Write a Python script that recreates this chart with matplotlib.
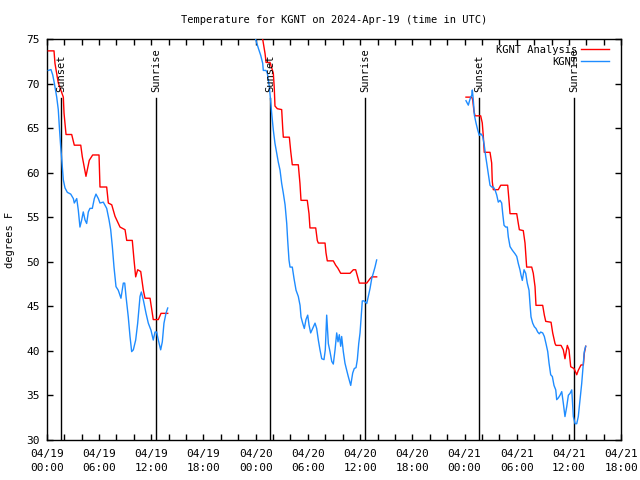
import numpy as np
import matplotlib
matplotlib.use("Agg")
import matplotlib.pyplot as plt

# hours since 2024-04-19 00:00 UTC
ana1_t = [0.18, 0.84, 0.95, 1.33, 1.91, 1.99, 2.22, 2.87, 3.17, 3.91, 4.09, 4.51, 4.89, 5.28, 6.01, 6.12, 6.89,
          7.08, 7.47, 7.85, 8.42, 9.0, 9.19, 9.83, 10.03, 10.22, 10.45, 10.80, 11.10, 11.29, 11.87, 12.24, 12.82,
          13.13, 13.9]
ana1_v = [73.7, 73.7, 72.3, 70.1, 68.5, 66.7, 64.3, 64.3, 63.1, 63.1, 61.8, 59.6, 61.4, 62.0, 62.0, 58.4, 58.4,
          56.6, 56.4, 55.1, 53.9, 53.6, 52.4, 52.4, 50.2, 48.3, 49.1, 48.9, 46.8, 45.9, 45.9, 43.5, 43.5,
          44.2, 44.2]

obs1_t = [0.18, 0.49, 0.69, 0.87, 1.15, 1.33, 1.45, 1.61, 1.72, 1.91, 2.10, 2.37, 2.76, 3.06, 3.17, 3.45, 3.63,
          3.82, 4.02, 4.20, 4.40, 4.59, 4.78, 4.97, 5.24, 5.47, 5.66, 5.93, 6.12, 6.50, 6.89, 7.16, 7.35, 7.54,
          7.73, 7.96, 8.22, 8.53, 8.80, 8.96, 9.11, 9.37, 9.57, 9.76, 9.95, 10.22, 10.45, 10.72, 10.87, 11.10,
          11.41, 11.67, 11.98, 12.24, 12.44, 12.63, 12.82, 13.09, 13.28, 13.47, 13.70, 13.90]
obs1_v = [71.5, 71.6, 71.0, 70.1, 68.5, 67.1, 65.2, 62.9, 61.6, 59.2, 58.3, 57.8, 57.6, 57.1, 56.6, 57.1, 55.8,
          53.9, 54.7, 55.6, 54.7, 54.3, 55.6, 56.0, 56.0, 57.1, 57.6, 57.1, 56.6, 56.7, 56.0, 54.7, 53.6, 51.7,
          49.4, 47.2, 46.8, 45.9, 47.6, 47.6, 46.1, 43.8, 41.6, 39.9, 40.1, 41.2, 43.1, 46.1, 46.6, 45.7,
          44.2, 43.1, 42.3, 41.2, 42.1, 42.1, 41.2, 40.1, 41.0, 43.1, 44.2, 44.8]

ana2_t = [24.3, 24.81, 25.08, 25.2, 25.65, 26.03, 26.14, 26.22, 26.49, 26.99, 27.11, 27.18, 27.87, 28.03, 28.21,
          28.9, 29.09, 29.21, 29.93, 30.13, 30.24, 30.9, 31.08, 31.2, 31.97, 32.08, 32.23, 32.92, 33.2, 33.43,
          33.77, 34.84, 35.22, 35.49, 35.91, 36.76, 37.14, 37.33, 37.9]
ana2_v = [77.5, 75.0, 73.4, 72.4, 72.4, 71.2, 69.5, 67.5, 67.2, 67.1, 65.0, 64.0, 64.0, 62.4, 60.9,
          60.9, 58.8, 56.9, 56.9, 55.4, 53.8, 53.8, 52.4, 52.1, 52.1, 51.0, 50.1, 50.1, 49.6, 49.3,
          48.7, 48.7, 49.1, 49.1, 47.6, 47.6, 48.1, 48.3, 48.3]

obs2_t = [23.7, 24.12, 24.31, 24.58, 24.81, 24.88, 25.19, 25.34, 25.57, 25.73, 25.84, 26.03, 26.22, 26.42, 26.60,
          26.80, 26.99, 27.18, 27.38, 27.57, 27.68, 27.83, 27.95, 28.21, 28.41, 28.64, 28.90, 29.10, 29.21,
          29.40, 29.59, 29.78, 29.98, 30.13, 30.32, 30.55, 30.82, 31.01, 31.20, 31.39, 31.59, 31.85, 32.0,
          32.16, 32.35, 32.54, 32.74, 32.92, 33.12, 33.31, 33.46, 33.61, 33.77, 33.88, 34.07, 34.26, 34.46,
          34.64, 34.92, 35.15, 35.33, 35.53, 35.68, 35.84, 35.99, 36.10, 36.25, 36.45, 36.76, 36.94, 37.14,
          37.33, 37.51, 37.71, 37.90]
obs2_v = [76.0, 74.6, 74.0, 73.2, 72.3, 71.5, 71.5, 71.2, 69.7, 68.0, 66.7, 64.8, 63.3, 62.2, 61.2,
          60.3, 58.8, 57.7, 56.4, 54.3, 52.4, 50.2, 49.4, 49.4, 48.1, 46.8, 46.1, 45.1, 43.8,
          43.1, 42.5, 43.5, 44.0, 42.9, 42.0, 42.5, 43.1, 42.5, 41.2, 40.1, 39.1, 39.0, 40.1,
          44.0, 40.8, 39.9, 38.8, 38.5, 40.1, 42.0, 41.0, 41.8, 40.5, 41.6, 39.9, 38.6, 37.8,
          37.1, 36.1, 37.5, 38.0, 38.1, 39.0, 40.8, 42.0, 43.5, 45.6, 45.6, 45.3, 46.1, 47.0,
          48.1, 48.7, 49.4, 50.2]

ana3_t = [48.16, 48.82, 48.93, 49.08, 49.20, 49.85, 50.03, 50.15, 50.26, 50.92, 51.11, 51.18, 51.30, 51.87, 52.15,
          52.95, 53.10, 53.22, 53.99, 54.17, 54.29, 54.74, 54.94, 55.13, 55.71, 55.89, 56.09, 56.20, 56.97,
          57.16, 57.32, 57.93, 58.12, 58.39, 58.50, 59.08, 59.34, 59.53, 59.80, 59.99, 60.19, 60.57, 60.88,
          61.06, 61.37, 61.64, 61.75, 61.91]
ana3_v = [68.5, 68.5, 68.2, 66.9, 66.4, 66.4, 65.6, 64.1, 62.3, 62.3, 61.1, 59.0, 58.1, 58.1, 58.6,
          58.6, 56.9, 55.4, 55.4, 54.3, 53.6, 53.5, 52.1, 49.4, 49.4, 48.7, 47.2, 45.1, 45.1,
          44.0, 43.3, 43.2, 42.0, 40.8, 40.6, 40.6, 40.1, 39.1, 40.6, 40.1, 38.2, 38.0, 37.3,
          37.8, 38.4, 38.4, 39.7, 40.5]

obs3_t = [48.16, 48.43, 48.54, 48.70, 48.82, 48.89, 49.00, 49.12, 49.31, 49.51, 49.69, 49.85, 50.08, 50.26, 50.43,
          50.54, 50.72, 50.92, 51.11, 51.30, 51.49, 51.69, 51.87, 52.07, 52.26, 52.38, 52.53, 52.72, 52.91,
          53.02, 53.22, 53.48, 53.79, 53.99, 54.17, 54.36, 54.48, 54.63, 54.83, 55.02, 55.20, 55.40, 55.51,
          55.63, 55.82, 56.01, 56.20, 56.40, 56.58, 56.74, 56.97, 57.16, 57.35, 57.55, 57.70, 57.89, 58.08,
          58.27, 58.47, 58.58, 58.77, 58.96, 59.16, 59.34, 59.53, 59.73, 59.92, 60.11, 60.31, 60.49, 60.69,
          60.88, 61.06, 61.26, 61.45, 61.64, 61.75, 61.91]
obs3_v = [68.1, 67.6, 68.0, 68.5, 68.7, 69.3, 68.2, 66.5, 65.6, 64.8, 64.2, 64.4, 64.1, 63.1, 61.8,
          61.1, 59.9, 58.6, 58.4, 58.4, 58.1, 57.5, 56.7, 56.9, 56.6, 55.4, 54.1, 53.9, 53.9,
          52.8, 51.7, 51.3, 50.9, 50.6, 49.8, 49.1, 48.5, 47.9, 49.1, 48.7, 47.6, 46.8, 45.3,
          43.8, 43.1, 42.7, 42.5, 42.1, 41.9, 42.1, 42.0, 41.6, 40.8, 39.9, 38.6, 37.3, 37.1,
          36.1, 35.6, 34.5, 34.7, 35.0, 35.4, 34.1, 32.6, 33.7, 35.0, 35.2, 35.6, 32.6, 31.8,
          31.8, 32.6, 34.5, 36.3, 38.6, 39.9, 40.5]

sun_events = [1.68, 12.59, 25.68, 36.6, 49.69, 60.6]
sun_labels = ["Sunset", "Sunrise", "Sunset", "Sunrise", "Sunset", "Sunrise"]

xtick_labels = ["04/19\n00:00", "04/19\n06:00", "04/19\n12:00", "04/19\n18:00",
                "04/20\n00:00", "04/20\n06:00", "04/20\n12:00", "04/20\n18:00",
                "04/21\n00:00", "04/21\n06:00", "04/21\n12:00", "04/21\n18:00"]
ytick_values = [30, 35, 40, 45, 50, 55, 60, 65, 70, 75]

plt.rcParams['font.family'] = ['DejaVu Sans Mono']
fig = plt.figure(figsize=(6.4, 4.8), dpi=100)
ax = fig.add_axes([46.7/640, 1-439.7/480, (621.3-46.7)/640, (439.7-39.3)/480])

red = '#ff0000'
blue = '#1e8cff'
segs = [(ana1_t, ana1_v, obs1_t, obs1_v), (ana2_t, ana2_v, obs2_t, obs2_v), (ana3_t, ana3_v, obs3_t, obs3_v)]
for i, (at, av, ot, ov) in enumerate(segs):
    ax.plot(at, av, color=red, lw=1.0, label="KGNT Analysis" if i == 0 else None, zorder=3)
    ax.plot(ot, ov, color=blue, lw=1.0, label="KGNT" if i == 0 else None, zorder=3)

for t, lab in zip(sun_events, sun_labels):
    ax.plot([t, t], [30, 68.4], color='black', lw=1.0, zorder=2)
    ax.text(t, 69.1, lab, rotation=90, ha='center', va='bottom', fontsize=7.5, zorder=4)

ax.set_xlim(0, 66)
ax.set_ylim(30, 75)
ax.set_xticks(np.arange(0, 67, 6))
ax.set_xticklabels(xtick_labels, linespacing=1.45)
ax.set_xticks(np.arange(0, 67, 2), minor=True)
ax.set_yticks(ytick_values)
ax.set_yticklabels([str(v) for v in ytick_values])
ax.tick_params(axis='both', which='both', direction='in', top=True, right=True, length=4, width=1,
               labelsize=8)
ax.tick_params(axis='x', which='major', pad=7)
ax.tick_params(axis='y', which='major', pad=5)
for s in ax.spines.values():
    s.set_linewidth(1.0)

ax.set_title("Temperature for KGNT on 2024-Apr-19 (time in UTC)", fontsize=7.5, pad=11.5)
ax.set_ylabel("degrees F", fontsize=7.5, labelpad=8)

leg = ax.legend(loc='upper right', bbox_to_anchor=(0.9965, 1.0125), frameon=False, fontsize=7.5,
                markerfirst=False, handlelength=2.7, handletextpad=0.35, borderpad=0.4,
                borderaxespad=0.62, labelspacing=0.2)
for t in leg.get_texts():
    t.set_ha('right')
leg._legend_box.align = "right"

fig.savefig("out.png", dpi=100)
